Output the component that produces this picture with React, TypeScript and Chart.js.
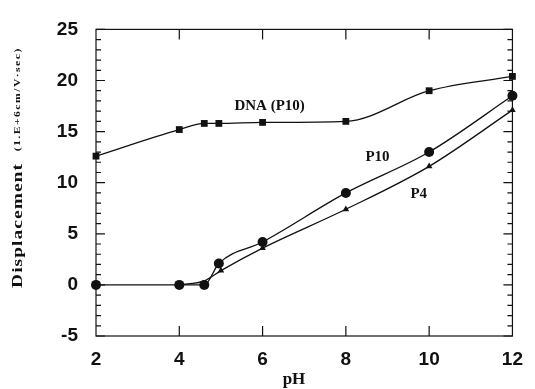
import React, { useEffect, useRef } from "react";
import { Chart, registerables } from "chart.js";

Chart.register(...registerables);

const dnaX = [2, 4, 4.6, 4.95, 6, 8, 10, 12];
const dnaY = [12.6, 15.2, 15.8, 15.8, 15.9, 16.0, 19.0, 20.4];
const p10X = [2, 4, 4.6, 4.95, 6, 8, 10, 12];
const p10Y = [0, 0, 0, 2.1, 4.2, 9.0, 13.0, 18.5];
const p4X = [4, 4.6, 5, 6, 8, 10, 12];
const p4Y = [0, 0.4, 1.4, 3.6, 7.4, 11.6, 17.1];
const p4Radius = [0, 0, 3.8, 3.8, 3.8, 3.8, 3.8];

const xTicks = [2, 4, 6, 8, 10, 12];
const yTicks = [-5, 0, 5, 10, 15, 20, 25];

const seriesLabels = [
  { text: "DNA (P10)", x: 6.17, y: 17.5 },
  { text: "P10", x: 8.76, y: 12.5 },
  { text: "P4", x: 9.75, y: 8.9 },
];

const yTitle = "Displacement";
const yUnit = "(1.E+6cm/V·sec)";
const xTitle = "pH";

const decorPlugin = {
  id: "decor",
  afterDraw(chart: any) {
    const ctx = chart.ctx;
    const { left, right, top, bottom } = chart.chartArea;
    const xs = chart.scales.x;
    const ys = chart.scales.y;
    ctx.save();
    ctx.strokeStyle = "#111";
    ctx.lineWidth = 1.2;
    ctx.strokeRect(left, top, right - left, bottom - top);
    ctx.beginPath();
    for (let v = -5; v <= 25; v += 1) {
      const py = ys.getPixelForValue(v);
      const len = v % 5 === 0 ? 9 : 5;
      ctx.moveTo(left, py);
      ctx.lineTo(left + len, py);
      ctx.moveTo(right, py);
      ctx.lineTo(right - len, py);
    }
    for (const v of xTicks) {
      if (v === 2 || v === 12) continue;
      const px = xs.getPixelForValue(v);
      ctx.moveTo(px, bottom);
      ctx.lineTo(px, bottom - 10);
      ctx.moveTo(px, top);
      ctx.lineTo(px, top + 10);
    }
    ctx.stroke();

    ctx.fillStyle = "#111";
    ctx.font = "bold 15px 'Liberation Serif', serif";
    ctx.textAlign = "center";
    ctx.textBaseline = "middle";
    for (const l of seriesLabels) {
      ctx.fillText(l.text, xs.getPixelForValue(l.x), ys.getPixelForValue(l.y));
    }

    ctx.font = "bold 17px 'Liberation Serif', serif";
    ctx.fillText(xTitle, 294, 380);

    const drawStretched = (text: string, font: string, target: number, cx: number, cy: number) => {
      ctx.save();
      ctx.translate(cx, cy);
      ctx.rotate(-Math.PI / 2);
      ctx.font = font;
      const w = ctx.measureText(text).width;
      const sx = Math.min(1.3, target / w);
      const sp = Math.max(0, (target / sx - w) / text.length);
      ctx.scale(sx, 1);
      (ctx as any).letterSpacing = sp + "px";
      ctx.textAlign = "center";
      ctx.textBaseline = "middle";
      ctx.fillText(text, sp / 2, 0);
      ctx.restore();
    };
    drawStretched(yTitle, "bold 15px 'Liberation Serif', serif", 125, 18, 226);
    drawStretched(yUnit, "bold 9px 'Liberation Serif', serif", 104, 18, 100);
    ctx.restore();
  },
};

export default function App() {
  const ref = useRef<HTMLCanvasElement>(null);
  useEffect(() => {
    document.body.style.margin = "0";
    const common = {
      borderColor: "#111",
      backgroundColor: "#111",
      borderWidth: 1.3,
      cubicInterpolationMode: "monotone" as const,
      pointBorderWidth: 0,
      fill: false,
      clip: false,
      showLine: true,
    };
    const chart = new Chart(ref.current!, {
      type: "scatter",
      data: {
        datasets: [
          {
            ...common,
            label: "DNA (P10)",
            data: dnaX.map((x, i) => ({ x, y: dnaY[i] })),
            pointStyle: "rect",
            pointRadius: 4.8,
          },
          {
            ...common,
            label: "P4",
            data: p4X.map((x, i) => ({ x, y: p4Y[i] })),
            pointStyle: "triangle",
            pointRadius: p4Radius,
          },
          {
            ...common,
            label: "P10",
            data: p10X.map((x, i) => ({ x, y: p10Y[i] })),
            pointStyle: "circle",
            pointRadius: 5,
          },
        ],
      },
      options: {
        animation: false,
        responsive: false,
        maintainAspectRatio: false,
        layout: { padding: { left: 0, right: 16, top: 23, bottom: 0 } },
        plugins: { legend: { display: false }, tooltip: { enabled: false } },
        scales: {
          x: {
            type: "linear",
            min: 2,
            max: 12,
            afterBuildTicks: (s: any) => {
              s.ticks = xTicks.map((v) => ({ value: v }));
            },
            afterFit: (s: any) => {
              s.height = 53;
            },
            grid: { display: false, drawTicks: false },
            border: { display: false },
            ticks: {
              padding: 12,
              color: "#111",
              font: { family: "'Liberation Sans', Arial, sans-serif", size: 19, weight: "bold" },
            },
          },
          y: {
            type: "linear",
            min: -5,
            max: 25,
            afterBuildTicks: (s: any) => {
              s.ticks = yTicks.map((v) => ({ value: v }));
            },
            afterFit: (s: any) => {
              s.width = 96;
            },
            grid: { display: false, drawTicks: false },
            border: { display: false },
            ticks: {
              padding: 18,
              color: "#111",
              font: { family: "'Liberation Sans', Arial, sans-serif", size: 19, weight: "bold" },
            },
          },
        },
      },
      plugins: [decorPlugin],
    } as any);
    return () => chart.destroy();
  }, []);
  return (
    <div style={{ width: 535, height: 389, position: "relative" }}>
      <canvas ref={ref} width={535} height={389} style={{ display: "block" }} />
    </div>
  );
}
